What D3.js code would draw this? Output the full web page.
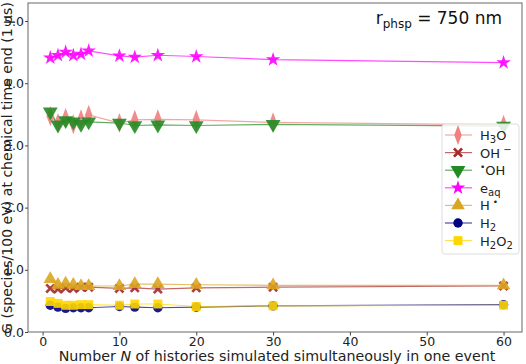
<!DOCTYPE html>
<html>
<head>
<meta charset="utf-8">
<script src="https://cdn.jsdelivr.net/npm/d3@7"></script>
<style>
  body { margin: 0; background: #fff; }
  text { font-family: "DejaVu Sans", sans-serif; }
</style>
</head>
<body>
<div id="chart"></div>
<script>
// number of histories per event
var nValues = [1, 2, 3, 4, 5, 6, 10, 12, 15, 20, 30, 60];

// G values per species
var gH3O  = [3.47, 3.36, 3.44, 3.34, 3.42, 3.49, 3.36, 3.41, 3.42, 3.41, 3.37, 3.33];
var gOHm  = [0.70, 0.69, 0.71, 0.70, 0.72, 0.72, 0.70, 0.71, 0.69, 0.71, 0.72, 0.74];
var gOH   = [3.54, 3.33, 3.40, 3.38, 3.34, 3.38, 3.36, 3.32, 3.33, 3.32, 3.34, 3.31];
var gEaq  = [4.41, 4.45, 4.50, 4.45, 4.47, 4.52, 4.44, 4.42, 4.45, 4.43, 4.38, 4.33];
var gH    = [0.85, 0.76, 0.78, 0.76, 0.74, 0.74, 0.74, 0.77, 0.77, 0.76, 0.75, 0.75];
var gH2   = [0.43, 0.40, 0.38, 0.39, 0.39, 0.39, 0.41, 0.40, 0.39, 0.40, 0.42, 0.44];
var gH2O2 = [0.49, 0.46, 0.43, 0.43, 0.44, 0.44, 0.43, 0.45, 0.45, 0.41, 0.42, 0.43];

var xTicks = [0, 10, 20, 30, 40, 50, 60];
var yTicks = [0, 1, 2, 3, 4, 5];

var series = [
    {key: 'H3O',  vals: gH3O,  color: '#f08080', sym: d3.symbolDiamond, size: 75},
    {key: 'OHm',  vals: gOHm,  color: '#a52a2a', sym: 'X', size: 70},
    {key: 'OH',   vals: gOH,   color: '#228b22', sym: 'tridown', size: 95},
    {key: 'eaq',  vals: gEaq,  color: '#ff00ff', sym: d3.symbolStar, size: 65},
    {key: 'H',    vals: gH,    color: '#daa520', sym: d3.symbolTriangle, size: 80},
    {key: 'H2',   vals: gH2,   color: '#000080', sym: d3.symbolCircle, size: 70},
    {key: 'H2O2', vals: gH2O2, color: '#ffd700', sym: d3.symbolSquare, size: 80}
];

var width = 526, height = 364;
var plot = {left: 28, top: 3, right: 522, bottom: 332};

var x = d3.scaleLinear().domain([-1.9, 62.4]).range([plot.left, plot.right]);
var y = d3.scaleLinear().domain([0, 5.29]).range([plot.bottom, plot.top]);

var svg = d3.select('#chart').append('svg')
    .attr('width', width)
    .attr('height', height);

// custom X marker (thick cross) path
function xPath(s) {
    var a = s, t = s * 0.38;
    return 'M' + (-a) + ',' + (-a + t) + 'L' + (-a + t) + ',' + (-a) + 'L0,' + (-t) +
        'L' + (a - t) + ',' + (-a) + 'L' + a + ',' + (-a + t) + 'L' + t + ',0' +
        'L' + a + ',' + (a - t) + 'L' + (a - t) + ',' + a + 'L0,' + t +
        'L' + (-a + t) + ',' + a + 'L' + (-a) + ',' + (a - t) + 'L' + (-t) + ',0Z';
}

function markerPath(s) {
    if (s.sym === 'X') return xPath(5);
    if (s.sym === 'tridown') return d3.symbol(d3.symbolTriangle, s.size)();
    return d3.symbol(s.sym, s.size)();
}

function markerTransform(s, px, py) {
    if (s.sym === 'tridown') return 'translate(' + px + ',' + py + ') rotate(180)';
    if (s.sym === d3.symbolDiamond) return 'translate(' + px + ',' + py + ') scale(0.8,1.25)';
    return 'translate(' + px + ',' + py + ')';
}

// fit a label's font size so it spans roughly the same length as in the figure
function fitText(sel, target, base) {
    var len = sel.node().getComputedTextLength();
    if (len > 0) {
        var fs = Math.max(12, Math.min(15, base * target / len));
        sel.style('font-size', fs + 'px');
    }
}

// frame
svg.append('rect')
    .attr('x', plot.left).attr('y', plot.top)
    .attr('width', plot.right - plot.left)
    .attr('height', plot.bottom - plot.top)
    .attr('fill', 'none')
    .attr('stroke', '#666')
    .attr('stroke-width', 1);

// axes
var xAxis = svg.append('g')
    .attr('transform', 'translate(0,' + plot.bottom + ')')
    .call(d3.axisBottom(x).tickValues(xTicks).tickSize(3.5).tickPadding(2));
var yAxis = svg.append('g')
    .attr('transform', 'translate(' + plot.left + ',0)')
    .call(d3.axisLeft(y).tickValues(yTicks).tickSize(3).tickPadding(1));

[xAxis, yAxis].forEach(function(g) {
    g.select('.domain').remove();
    g.selectAll('.tick line').attr('stroke', '#444');
    g.selectAll('.tick text')
        .attr('fill', '#222')
        .style('font-size', '12.5px')
        .style('font-family', '"DejaVu Sans", sans-serif');
});

// lines and markers
var line = d3.line()
    .x(function(d, i) { return x(nValues[i]); })
    .y(function(d) { return y(d); });

series.forEach(function(s) {
    svg.append('path')
        .datum(s.vals)
        .attr('d', line)
        .attr('fill', 'none')
        .attr('stroke', s.color)
        .attr('stroke-opacity', 0.7)
        .attr('stroke-width', 1.2);
});

series.forEach(function(s) {
    svg.append('g')
        .selectAll('path')
        .data(s.vals)
        .join('path')
        .attr('d', markerPath(s))
        .attr('transform', function(d, i) { return markerTransform(s, x(nValues[i]), y(d)); })
        .attr('fill', s.color)
        .attr('opacity', 0.9);
});

// axis labels
var xLabel = svg.append('text')
    .attr('x', 277)
    .attr('y', 361)
    .attr('text-anchor', 'middle')
    .style('font-size', '14px')
    .attr('fill', '#222')
    .html('Number <tspan font-style="italic">N</tspan> of histories simulated simultaneously in one event');
fitText(xLabel, 437, 14);

var yLabel = svg.append('text')
    .attr('transform', 'translate(12,168) rotate(-90)')
    .attr('text-anchor', 'middle')
    .style('font-size', '14px')
    .attr('fill', '#222')
    .text('G (species/100 eV) at chemical time end (1 μs)');
fitText(yLabel, 332, 14);

// annotation
var ann = svg.append('text')
    .attr('x', 502)
    .attr('y', 24)
    .attr('text-anchor', 'end')
    .style('font-size', '17px')
    .attr('fill', '#111');
ann.append('tspan').text('r');
ann.append('tspan').attr('dy', 4).style('font-size', '12px').text('phsp');
ann.append('tspan').attr('dy', -4).text(' = 750 nm');

// legend
var legend = svg.append('g').attr('transform', 'translate(442,124)');
legend.append('rect')
    .attr('width', 77).attr('height', 130)
    .attr('rx', 3)
    .attr('fill', '#fff')
    .attr('fill-opacity', 0.85)
    .attr('stroke', '#ddd');

var labels = [
    ['H', '3', 'O', ''],
    ['OH', '', '', '⁻'],
    ['•OH'],
    ['e', 'aq'],
    ['H•'],
    ['H', '2'],
    ['H', '2', 'O', '2']
];

series.forEach(function(s, i) {
    var ly = 11 + i * 17.6;
    var row = legend.append('g').attr('transform', 'translate(0,' + ly + ')');
    row.append('line')
        .attr('x1', 3).attr('x2', 30)
        .attr('stroke', s.color)
        .attr('stroke-opacity', 0.7)
        .attr('stroke-width', 1.2);
    row.append('path')
        .attr('d', markerPath(s))
        .attr('transform', markerTransform(s, 16, 0))
        .attr('fill', s.color);

    var t = row.append('text')
        .attr('x', 38).attr('y', 5)
        .style('font-size', '13px')
        .attr('fill', '#222');
    var L = labels[i];
    if (s.key === 'OH') {
        t.append('tspan').attr('dy', -5).style('font-size', '9px').text('•');
        t.append('tspan').attr('dy', 5).text('OH');
    } else if (s.key === 'H') {
        t.append('tspan').text('H');
        t.append('tspan').attr('dy', -5).style('font-size', '9px').text(' •');
    } else if (s.key === 'OHm') {
        t.append('tspan').text('OH');
        t.append('tspan').attr('dy', -5).style('font-size', '10px').text(' −');
    } else {
        t.append('tspan').text(L[0]);
        t.append('tspan').attr('dy', 3).style('font-size', '10px').text(L[1]);
        if (L[2]) {
            t.append('tspan').attr('dy', -3).text(L[2]);
            if (L[3]) t.append('tspan').attr('dy', 3).style('font-size', '10px').text(L[3]);
        }
    }
});
</script>
</body>
</html>
